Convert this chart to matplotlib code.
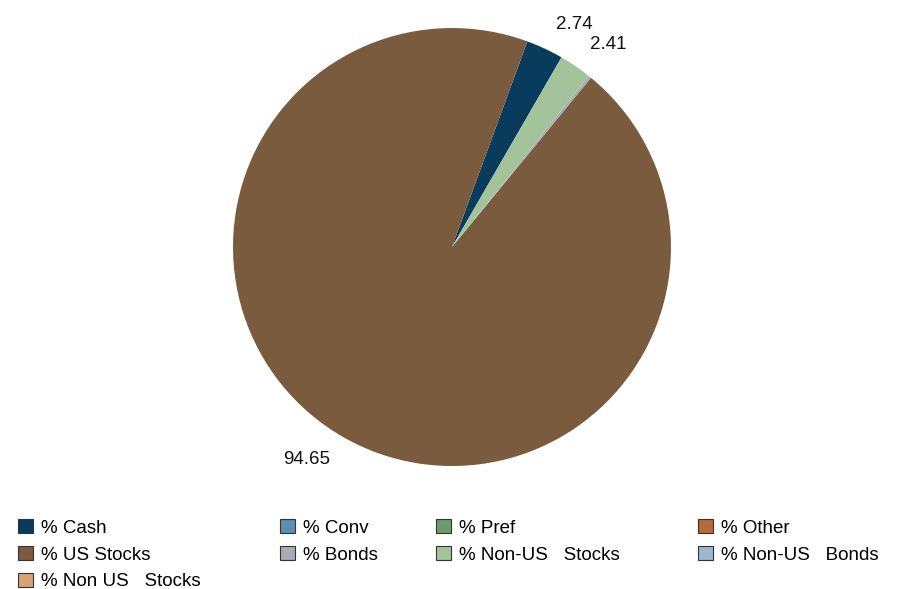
import matplotlib.pyplot as plt
from matplotlib.patches import Patch

plt.rcParams['font.family'] = ['Liberation Sans', 'DejaVu Sans']

categories = ["% Cash", "% Conv", "% Pref", "% Other", "% US Stocks",
              "% Bonds", "% Non-US   Stocks", "% Non-US   Bonds", "% Non US   Stocks"]
values = [2.74, 0.0, 0.0, 0.0, 94.65, 0.20, 2.41, 0.0, 0.0]
colors = ["#083b5c", "#5b8fb1", "#6a9b6a", "#b8693a", "#7a5b3e",
          "#a9abb5", "#a3c49b", "#9ab9cc", "#d8a372"]

# columns of the legend grid (indices into categories)
legend_cols = [[0, 4, 8], [1, 5], [2, 6], [3, 7]]
legend_x = [18, 280, 436, 698]

fig = plt.figure(figsize=(9.02, 5.89), dpi=100)
ax = fig.add_axes([0.2583, 0.2088, 0.4856, 0.7436])

labels = [f"{v:.2f}" if v >= 1 else "" for v in values]
wedges, texts = ax.pie(values, labels=labels, colors=colors, startangle=60,
                       labeldistance=1.12, radius=1,
                       textprops={'fontsize': 13.5, 'color': '#111111'},
                       wedgeprops={'linewidth': 0})
ax.set_xlim(-1, 1)
ax.set_ylim(-1, 1)
ax.set_aspect('equal')

for col, x in zip(legend_cols, legend_x):
    handles = [Patch(facecolor=colors[i], edgecolor='#333333', linewidth=0.8) for i in col]
    fig.legend(handles, [categories[i] for i in col], loc='upper left',
               bbox_to_anchor=(x / 902, 1 - 519 / 589), frameon=False,
               fontsize=13.5, handlelength=0.78, handleheight=0.78,
               handletextpad=0.45, labelspacing=0.5, borderpad=0, borderaxespad=0)

fig.savefig("out.png", dpi=100)
